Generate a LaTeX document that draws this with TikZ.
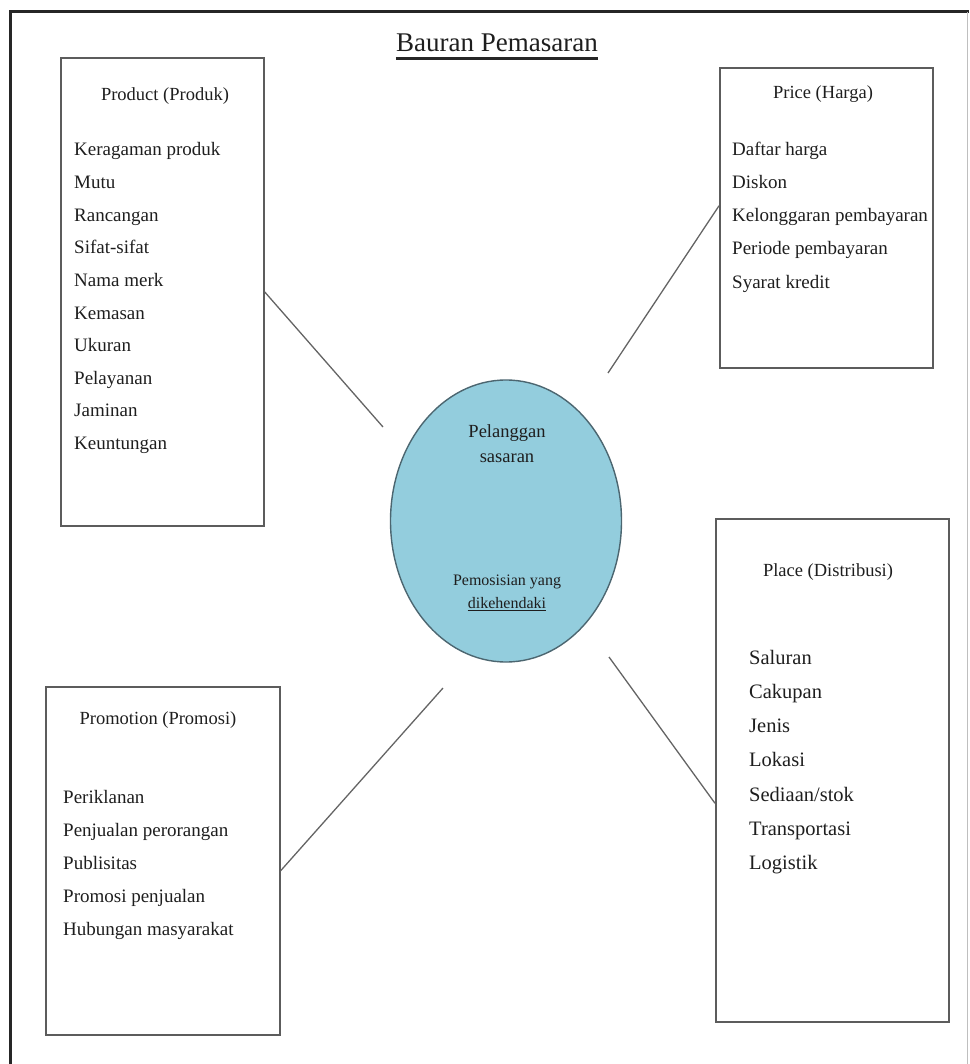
\documentclass[tikz,border=0pt]{standalone}
\usepackage{fontspec}
\setmainfont{Liberation Serif}
\usetikzlibrary{shapes.geometric,calc}
\definecolor{inkgray}{HTML}{1E1E1E}
\definecolor{boxline}{HTML}{5C5C5C}
\definecolor{aqua}{HTML}{93CDDD}
\definecolor{rimline}{HTML}{4C6670}
\definecolor{frameline}{HTML}{262626}

\begin{document}
\begin{tikzpicture}[x=1pt,y=-1pt,
  panel/.style={draw=boxline,line width=1.6pt,inner sep=0,anchor=north west},
  head/.style={font=\fontsize{18.5}{22}\selectfont,text=inkgray,inner sep=0,anchor=base},
  item/.style={font=\fontsize{19}{23}\selectfont,text=inkgray,inner sep=0,anchor=base west},
  bigitem/.style={item,font=\fontsize{20.5}{24}\selectfont},
  core/.style={font=\fontsize{18.5}{22}\selectfont,text=inkgray,inner sep=0,anchor=base},
  coresmall/.style={font=\fontsize{16}{19}\selectfont,text=inkgray,inner sep=0,anchor=base},
  link/.style={draw=boxline!95,line width=1.3pt}]
\useasboundingbox (0,0) rectangle (969,1064);

% page frame
\draw[frameline,line width=3pt] (969,12) -- (10,12) -- (10,1064);
\draw[black!25,line width=1pt] (967,12) -- (967,1064);

% title
\node[inner sep=0,anchor=base,text=inkgray,font=\fontsize{27}{30}\selectfont] (title) at (497,52) {Bauran Pemasaran};
\draw[frameline,line width=3pt] ([yshift=-7pt]title.base west) -- ([yshift=-7pt]title.base east);

% the four panels
\node[panel,minimum width=203,minimum height=468] (prod) at (60,57) {};
\node[panel,minimum width=213,minimum height=300] (price) at (719,67) {};
\node[panel,minimum width=234,minimum height=348] (promo) at (45,686) {};
\node[panel,minimum width=233,minimum height=503] (place) at (715,518) {};

% target customer in the middle
\node[ellipse,draw=rimline,line width=1.4pt,fill=aqua,minimum width=231,minimum height=282,inner sep=0] (target) at (506,521) {};
\node[core] (pel1) at (507,437) {Pelanggan};
\node[core] (pel2) at (507,462) {sasaran};
\node[coresmall] (pos1) at (507,585) {Pemosisian yang};
\node[coresmall] (pos2) at (507,608) {dikehendaki};
\draw[inkgray,line width=0.8pt] ([yshift=-2.5pt]pos2.base west) -- ([yshift=-2.5pt]pos2.base east);

% panel headings
\node[head] (prodh) at (165,101) {Product (Produk)};
\node[head] (priceh) at (823,99) {Price (Harga)};
\node[head] (promoh) at (158,724) {Promotion (Promosi)};
\node[head] (placeh) at (828,576) {Place (Distribusi)};

% panel contents
\foreach \t [count=\i] in {Keragaman produk,Mutu,Rancangan,Sifat-sifat,Nama merk,Kemasan,Ukuran,Pelayanan,Jaminan,Keuntungan}
  \node[item] (prod\i) at (74,123.4+32.6*\i) {\t};
\foreach \t [count=\i] in {Daftar harga,Diskon,Kelonggaran pembayaran,Periode pembayaran,Syarat kredit}
  \node[item] (price\i) at (732,123+33*\i) {\t};
\foreach \t [count=\i] in {Periklanan,Penjualan perorangan,Publisitas,Promosi penjualan,Hubungan masyarakat}
  \node[item] (promo\i) at (63,769.8+33.2*\i) {\t};
\foreach \t [count=\i] in {Saluran,Cakupan,Jenis,Lokasi,Sediaan/stok,Transportasi,Logistik}
  \node[bigitem] (place\i) at (749,629.7+34.3*\i) {\t};

% connectors towards the centre
\coordinate (tprod) at (383,427);
\coordinate (tprice) at (608,373);
\coordinate (tpromo) at (443,688);
\coordinate (tplace) at (609,657);
\draw[link] (prod.east) -- (tprod);
\draw[link] ($(price.west)+(0,-12)$) -- (tprice);
\draw[link] ($(promo.east)+(0,10)$) -- (tpromo);
\draw[link] ($(place.west)+(0,33)$) -- (tplace);
\end{tikzpicture}
\end{document}
